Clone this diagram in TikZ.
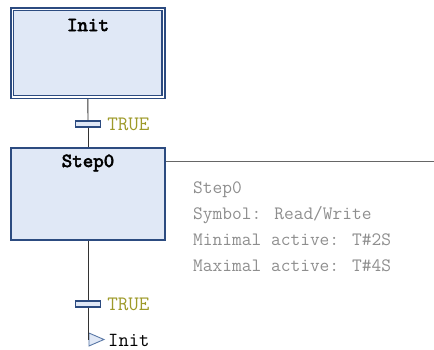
\documentclass[tikz,border=0pt]{standalone}
\usepackage{fontspec}
\newfontfamily\namefont[FakeBold=3]{lmmono10-regular.otf}
\usetikzlibrary{positioning, shapes.geometric}
\definecolor{boxfill}{HTML}{E0E8F6}
\definecolor{boxline}{HTML}{2C4B80}
\definecolor{condcol}{HTML}{9E9A2A}
\definecolor{infocol}{HTML}{8E8E8E}
\definecolor{jumpcol}{HTML}{5A78A6}

\begin{document}
\begin{tikzpicture}[x=1pt, y=-1pt, font=\ttfamily,
    stepbox/.style={draw=boxline, fill=boxfill, line width=1.5pt, inner sep=0pt},
    stepname/.style={font=\namefont\fontsize{20}{22}\selectfont},
    trans/.style={draw=boxline, fill=boxfill, line width=1.2pt, inner sep=0pt,
        minimum width=25pt, minimum height=6pt},
    cond/.style={text=condcol, inner sep=0pt, font=\ttfamily\fontsize{20.5}{22}\selectfont},
    info/.style={text=infocol, anchor=base west, inner sep=0pt,
        font=\ttfamily\fontsize{18.9}{22}\selectfont},
    jumptip/.style={draw=jumpcol, fill=boxfill, isosceles triangle,
        isosceles triangle stretches, inner sep=0pt, minimum width=13pt,
        minimum height=15pt, line width=0.9pt},
    link/.style={draw=black!80, line width=0.9pt}]
  \useasboundingbox (0,0) rectangle (434,349);
  % Init step
  \node[stepbox, line width=3pt, minimum width=152.7pt, minimum height=89pt]
      (init) at (87.85,53) {};
  \draw[white, line width=1.6pt] ([shift={(2.3,2.3)}]init.north west)
      rectangle ([shift={(-2.3,-2.3)}]init.south east);
  \draw[boxline, line width=1.3pt] ([shift={(3.8,3.8)}]init.north west)
      rectangle ([shift={(-3.8,-3.8)}]init.south east);
  \node[stepname] (initname) at (88,25) {Init};
  % Step0
  \node[stepbox, minimum width=154pt, minimum height=92pt] (step0) at (88,194) {};
  \node[stepname] (step0name) at (88,163) {Step0};
  \coordinate (rend) at (434,161);
  \draw[draw=black!60, line width=1pt] (step0.east |- rend) -- (rend);
  % Step0 properties
  \foreach \t/\i in {Step0/0, {Symbol: Read/Write}/1,
      {Minimal active: T\#2S}/2, {Maximal active: T\#4S}/3}{
    \node[info] (info\i) at (193, 193+\i*26.3) {\t};
  }
  % Transitions
  \node[trans] (t1) at (88,124) {};
  \node[cond, right=6pt of t1] (c1) {TRUE};
  \node[trans] (t2) at (88,304) {};
  \node[cond, right=6pt of t2] (c2) {TRUE};
  % Jump
  \node[jumptip, anchor=west] (jump) at (88.5,339.5) {};
  \node[inner sep=0pt, anchor=base west, font=\ttfamily\fontsize{20}{22}\selectfont]
      (jumpname) at (108,346) {Init};
  % Links
  \draw[link] (init.south) -- (t1.north); \draw[link] (t1.south) -- (step0.north);
  \draw[link] (step0.south) -- (t2.north); \draw[link] (t2.south) |- (jump.west);
\end{tikzpicture}
\end{document}
